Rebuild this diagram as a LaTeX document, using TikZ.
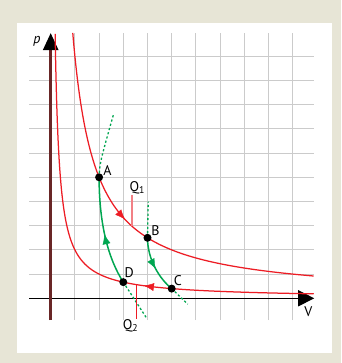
\documentclass[tikz,border=0pt]{standalone}
\usepackage{fontspec}
\setmainfont{PT Sans}
\usetikzlibrary{arrows.meta}
\definecolor{bg}{RGB}{231,229,214}
\definecolor{gridc}{RGB}{203,203,203}
\definecolor{isored}{RGB}{237,28,36}
\definecolor{adgreen}{RGB}{0,166,81}
\definecolor{axisbrown}{RGB}{105,38,38}
\definecolor{qpink}{RGB}{242,128,133}
\begin{document}
\begin{tikzpicture}[x=24.2pt,y=24.2pt,
  gridline/.style={draw=gridc, line width=1.15pt},
  iso/.style={draw=isored, line width=1.25pt},
  adia/.style={draw=adgreen, line width=1.5pt},
  adiadot/.style={draw=adgreen, line width=1.3pt, dash pattern=on 2.2pt off 2.2pt},
  isoarrow/.style={draw=isored, fill=isored, line width=0.4pt, -{Latex[length=10pt,width=8pt]}},
  adiarrow/.style={draw=adgreen, fill=adgreen, line width=0.4pt, -{Latex[length=10pt,width=8pt]}},
  pt/.style={circle, fill=black, inner sep=0pt, minimum size=8pt},
  lab/.style={inner sep=0pt, font=\fontsize{14}{16}\selectfont}]
\useasboundingbox (-2.095,-2.674) rectangle (11.996,12.326);
\fill[bg] (-2.095,-2.674) rectangle (11.996,12.326);
\fill[white] (-1.39,-2.26) rectangle (11.62,11.39);
% grid
\foreach \i in {1,...,10} \draw[gridline] (\i,-0.9) -- (\i,10.96);
\foreach \j in {1,...,10} \draw[gridline] (-0.88,\j) -- (10.89,\j);
% axes
\coordinate (xs) at (-0.88,0);
\coordinate (xe) at (10.89,0);
\coordinate (ys) at (0,-0.9);
\coordinate (ye) at (0,10.96);
\draw[black, line width=1.4pt, -{Triangle[length=16pt,width=16pt]}] (xs) -- (xe);
\draw[axisbrown, line width=2.5pt, -{Triangle[length=17pt,width=15pt,color=black]}] (ys) -- (ye);
\node[lab, anchor=base] (plab) at (-0.566,10.537) {\textit{p}};
\node[lab] (vlab) at (10.645,-0.566) {V};
% isotherms
\draw[iso] plot[domain={ln(0.912)}:{ln(10.89)}, samples=200, smooth] ({exp(\x)},{10/exp(\x)});
\draw[iso] plot[domain={ln(0.1825)}:{ln(10.89)}, samples=200, smooth] ({exp(\x)},{2/exp(\x)});
% state points
\coordinate (A) at (2,5);
\coordinate (B) at (4,2.5);
\coordinate (C) at (5,0.4);
\coordinate (D) at (3,0.6667);
% adiabats
\coordinate (Atop) at (2.59,7.58);
\coordinate (Dbot) at (3.97,-0.83);
\coordinate (Btop) at (4.03,3.99);
\coordinate (Cbot) at (5.66,-0.24);
\draw[adiadot] (A) .. controls (2.03,5.6) .. (Atop);
\draw[adiadot] (D) -- (Dbot);
\draw[adiadot] (B) -- (Btop);
\draw[adiadot] (C) -- (Cbot);
\draw[adia] (A) .. controls (2,3) and (2.4,1.6) .. (D);
\draw[adia] (B) .. controls (4,1.6) and (4.5,0.8) .. (C);
% direction arrows
\coordinate (ia1) at (2.97,{10/2.97});
\coordinate (ia2) at (3.07,{10/3.07});
\draw[isoarrow] (ia1) -- (ia2);
\coordinate (ib1) at (3.95,{2/3.95});
\coordinate (ib2) at (3.85,{2/3.85});
\draw[isoarrow] (ib1) -- (ib2);
\coordinate (ga1) at (2.241,2.552);
\coordinate (ga2) at (2.22,2.65);
\draw[adiarrow] (ga1) -- (ga2);
\coordinate (gb1) at (4.288,1.307);
\coordinate (gb2) at (4.335,1.219);
\draw[adiarrow] (gb1) -- (gb2);
% heat markers
\coordinate (q1top) at (3.35,4.27);
\coordinate (q1bot) at (3.35,{10/3.35});
\draw[qpink, line width=1.5pt] (q1top) -- (q1bot);
\coordinate (q2top) at (3.55,{2/3.55});
\coordinate (q2bot) at (3.55,-0.86);
\draw[isored, line width=1.3pt] (q2top) -- (q2bot);
\node[lab, anchor=base west] (q1lab) at (3.25,4.413) {Q\textsubscript{1}};
\node[lab, anchor=base west] (q2lab) at (2.97,-1.289) {Q\textsubscript{2}};
% points
\node[pt] (pA) at (A) {};
\node[pt] (pB) at (B) {};
\node[pt] (pC) at (C) {};
\node[pt] (pD) at (D) {};
\node[lab] (lA) at (2.35,5.26) {A};
\node[lab] (lB) at (4.33,2.80) {B};
\node[lab] (lC) at (5.26,0.74) {C};
\node[lab] (lD) at (3.24,1.08) {D};
\end{tikzpicture}
\end{document}
